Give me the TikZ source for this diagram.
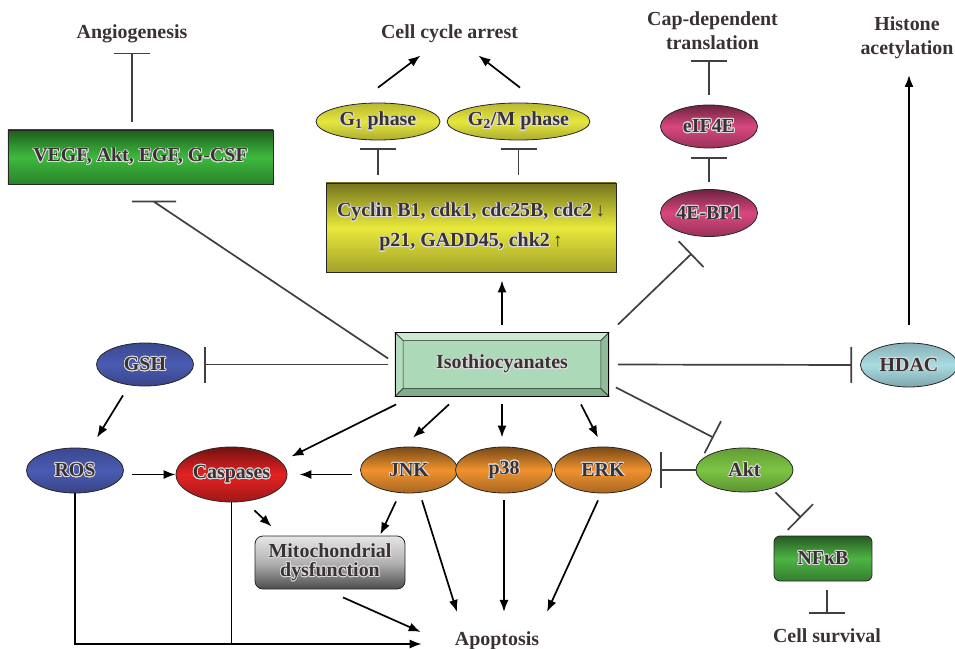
\documentclass[tikz,border=0pt]{standalone}
\usepackage{fontspec}
\setmainfont{Liberation Serif}
\usepackage[copies]{contour}
\usetikzlibrary{arrows.meta,calc,shapes.geometric}
\contourlength{0.8bp}
\definecolor{ink}{HTML}{3A3133}
\definecolor{vegfgreen}{HTML}{3DBA3D}
\definecolor{cycyellow}{HTML}{E8E83C}
\definecolor{phaseyellow}{HTML}{E6E63E}
\definecolor{pinkc}{HTML}{D9477F}
\definecolor{hdacblue}{HTML}{A9DCE3}
\definecolor{gshblue}{HTML}{4A5BB3}
\definecolor{caspred}{HTML}{E52222}
\definecolor{mapkorange}{HTML}{F0922E}
\definecolor{aktgreen}{HTML}{7CC443}
\definecolor{nfgreen}{HTML}{4DB444}
\definecolor{isoface}{HTML}{ACD9B7}
\definecolor{isotop}{HTML}{CBEAD1}
\definecolor{isoleft}{HTML}{B4DDBD}
\definecolor{isodark}{HTML}{7FAE8C}
\newcommand{\halo}[1]{\contour{white!75!gray}{#1}}
\newcommand{\dn}{{\mdseries\fontsize{19}{19}\selectfont ↓}}
\newcommand{\up}{{\mdseries\fontsize{19}{19}\selectfont ↑}}

\begin{document}
\begin{tikzpicture}[x=1bp,y=-1bp,
  every node/.style={font=\fontsize{20}{24}\selectfont\bfseries,text=ink,inner sep=0pt},
  oval/.style={ellipse,draw=black!85,line width=0.8bp,minimum width=97bp,minimum height=44bp},
  panel/.style={draw=black!85,line width=0.8bp},
  tone/.style={top color=#1!50!black,bottom color=#1!70!black,middle color=#1},
  soft/.style={top color=#1!80!black,bottom color=#1!75!black,middle color=#1},
  act/.style={line width=1.7bp,-{Latex[length=12bp,width=9bp]}},
  inh/.style={line width=1.7bp,draw=black!75,-{Bar[width=36bp]}},
  wire/.style={line width=1.7bp},
  ]
\useasboundingbox (0,0) rectangle (955,649);

% outcome labels
\node[anchor=base] (angio) at (132,39) {Angiogenesis};
\node[anchor=base] (cca) at (449.5,39) {Cell cycle arrest};
\node[anchor=south,align=center] (cap) at (712.5,50) {Cap-dependent\\translation};
\node[anchor=south,align=center] (hist) at (907,59) {Histone\\acetylation};
\node[anchor=base] (apop) at (497,645) {Apoptosis};
\node[anchor=base] (surv) at (827,642) {Cell survival};

% boxes and ovals
\node[panel,tone=vegfgreen,minimum width=265bp,minimum height=54bp] (vegf) at (140.5,157) {\halo{VEGF, Akt, EGF, G-CSF}};
\node[panel,tone=cycyellow,minimum width=290bp,minimum height=89bp,align=center] (cyc) at (471,227.5)
  {\halo{Cyclin B1, cdk1, cdc25B, cdc2}\,\dn\\[6bp]\halo{p21, GADD45, chk2}\,\up};
\node[oval,soft=phaseyellow,minimum width=124bp,minimum height=37bp] (g1) at (378,121.5) {\halo{G\textsubscript{1} phase}};
\node[oval,soft=phaseyellow,minimum width=123bp,minimum height=37bp] (g2) at (518.5,121.5) {\halo{G\textsubscript{2}/M phase}};
\node[oval,tone=pinkc,minimum height=43bp] (eif) at (709,126.5) {\halo{eIF4E}};
\node[oval,tone=pinkc,minimum height=47bp] (bp) at (709,213) {\halo{4E-BP1}};
\node[oval,soft=hdacblue] (hdac) at (909,365) {\halo{HDAC}};
\node[oval,soft=gshblue,minimum height=43bp] (gsh) at (145,364.5) {\halo{GSH}};
\node[oval,soft=gshblue,minimum height=45bp] (ros) at (75,470.5) {\halo{ROS}};
\node[oval,tone=caspred,minimum width=111bp,minimum height=55bp] (casp) at (231.5,474.5) {\halo{Caspases}};
\node[oval,tone=mapkorange,minimum height=46bp] (jnk) at (409,470) {\halo{JNK}};
\node[oval,tone=mapkorange,minimum height=46bp] (erk) at (603,470) {\halo{ERK}};
\node[oval,tone=mapkorange,minimum height=46bp] (p38) at (504,470) {\halo{p38}};
\node[oval,soft=aktgreen] (akt) at (744.5,470) {\halo{Akt}};
\node[panel,rounded corners=6bp,tone=nfgreen,minimum width=98bp,minimum height=45bp] (nfkb) at (823,558.5) {\halo{NFκB}};
\node[panel,rounded corners=8bp,top color=black!10,bottom color=black!70,middle color=black!30,
  minimum width=150bp,minimum height=53bp,align=center,font=\fontsize{20}{19}\selectfont\bfseries] (mito) at (330,562.5)
  {\halo{Mitochondrial}\\\halo{dysfunction}};

% isothiocyanates, bevelled
\node[panel,fill=isoface,minimum width=213bp,minimum height=63bp] (iso) at (502,364.5) {\halo{Isothiocyanates}};
\filldraw[isotop,draw=black!85,line width=0.6bp] (iso.north west) -- (iso.north east) -- ++(-8,8) -- ($(iso.north west)+(8,8)$) -- cycle;
\filldraw[isoleft,draw=black!85,line width=0.6bp] (iso.north west) -- (iso.south west) -- ++(8,-8) -- ($(iso.north west)+(8,8)$) -- cycle;
\filldraw[isodark,draw=black!85,line width=0.6bp] (iso.south west) -- (iso.south east) -- ++(-8,-8) -- ($(iso.south west)+(8,-8)$) -- cycle;
\filldraw[isodark!85!white,draw=black!85,line width=0.6bp] (iso.north east) -- (iso.south east) -- ++(-8,-8) -- ($(iso.north east)+(-8,8)$) -- cycle;
\draw[line width=1bp] (iso.north west) rectangle (iso.south east);

% top part
\draw[inh,shorten <=8bp,shorten >=9bp] (vegf.north -| angio.south) -- (angio.south);
\draw[inh,-] ($(iso.west)+(-7,-6)$) -- ($(vegf.south)+(13,17)$) ++(-21.5,0) -- ++(44,0);
\draw[act] ($(g1.north)+(0,-15)$) -- ($(cca.south)+(-29,12)$);
\draw[act] ($(g2.north)+(1.5,-15)$) -- ($(cca.south)+(29,12)$);
\draw[inh,shorten <=8bp,shorten >=8bp] (cyc.north -| g1.south) -- (g1.south);
\draw[inh,shorten <=8bp,shorten >=8bp] (cyc.north -| g2.south) -- (g2.south);
\draw[act,shorten <=8bp,shorten >=8bp] (iso.north) -- (iso.north |- cyc.south);
\draw[inh,shorten <=7bp,shorten >=9bp] (bp.north) -- (eif.south);
\draw[inh,shorten <=10bp,shorten >=10bp] (eif.north) -- (eif.north |- cap.south);
\draw[inh,shorten >=24bp] ($(iso.north east)+(9,-8)$) -- (bp.south);
\draw[act,shorten <=18bp,shorten >=16bp] (hdac.north) -- (hdac.north |- hist.south);
\draw[inh,shorten <=9bp,shorten >=8bp] (iso.east) -- (hdac.west);
\draw[inh,shorten <=7bp,shorten >=10bp] (iso.west) -- (gsh.east);

% lower part
\draw[act] ($(gsh.south)+(-22,9)$) -- ($(ros.north)+(22,-10)$);
\draw[act,shorten <=8bp] (ros.east |- casp.west) -- (casp.west);
\draw[act,shorten <=8bp,shorten >=12bp] (jnk.west |- casp.east) -- (casp.east);
\draw[act] ($(iso.south west)+(1,8)$) -- ($(casp.east)+(4,-18)$);
\draw[act] ($(iso.south)+(-53,8)$) -- ($(jnk.north)+(4,-9)$);
\draw[act,shorten <=8bp,shorten >=9bp] (iso.south) -- (iso.south |- p38.north);
\draw[act] ($(iso.south)+(79,8)$) -- ($(erk.north)+(-5,-9)$);
\draw[inh] ($(iso.south east)+(7,-9)$) -- ($(akt.north)+(-31,-10)$);
\draw[inh,shorten >=8bp] (akt.west) -- (erk.east);
\draw[inh] ($(akt.south)+(31,0)$) -- ($(nfkb.north)+(-22,-18)$);
\draw[inh,shorten <=9bp,shorten >=14bp] (nfkb.south -| surv.north) -- (surv.north);

% to apoptosis
\draw[act] ($(casp.south)+(23,8)$) -- ($(mito.north west)+(17,-9)$);
\draw[act] ($(jnk.south)+(-13,8)$) -- ($(mito.north east)+(-25,-1)$);
\draw[act] ($(jnk.south)+(13,7)$) -- ($(apop.north)+(-40,-19)$);
\draw[act,shorten <=7bp,shorten >=19bp] (p38.south) -- (p38.south |- apop.north);
\draw[act] ($(erk.south)+(-5,7)$) -- ($(apop.north)+(50,-19)$);
\draw[act] ($(mito.south)+(13,8)$) -- ($(apop.base west)+(-34,-13)$);
\draw[wire] (casp.south) -- (casp.south |- apop.base west);
\draw[act] (ros.south) |- ($(apop.base west)+(-33,-1)$);
\end{tikzpicture}
\end{document}
